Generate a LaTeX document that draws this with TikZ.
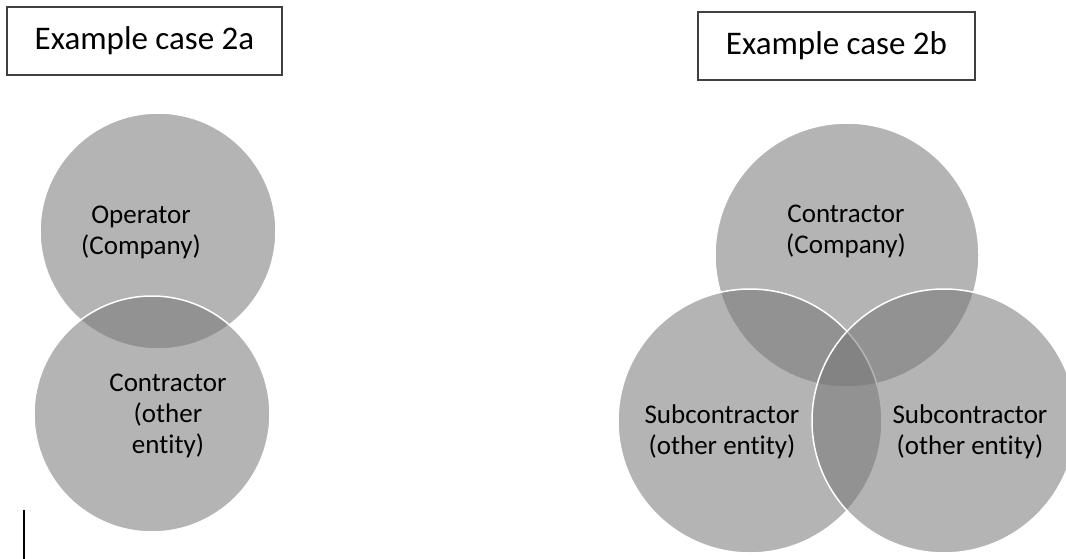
\documentclass[tikz,border=0pt]{standalone}
\usepackage{fontspec}
\setmainfont{Carlito}[Ligatures=NoCommon]
\definecolor{vennfill}{gray}{0.46}
\definecolor{boxline}{gray}{0.25}
\begin{document}
\begin{tikzpicture}[x=1pt,y=-1pt,
  casebox/.style={draw=boxline,line width=1.3pt,minimum height=68pt,inner sep=0pt,font=\fontsize{33}{40}\selectfont},
  venn/.style={circle,draw=white,line width=1.5pt,fill=vennfill,fill opacity=0.54,inner sep=0pt},
  lbl/.style={align=center,inner sep=0pt,font=\fontsize{27}{31}\selectfont}]
\clip (0,0) rectangle (1066,559);
\node[casebox,minimum width=275pt] (casea) at (144.5,41) {Example case 2a};
\node[casebox,minimum width=277pt] (caseb) at (836.5,46) {Example case 2b};
\node[venn,minimum size=236pt] (operator) at (158,231) {};
\node[venn,minimum size=236pt] (contractor) at (152,414) {};
\node[lbl] (operatortxt) at (141,232) {Operator\\(Company)};
\node[lbl] (contractortxt) at (168,416) {Contractor\\(other\\entity)};
\node[venn,minimum size=264pt] (maincontr) at (847,255) {};
\node[venn,minimum size=264pt] (subleft) at (750,421) {};
\node[venn,minimum size=264pt] (subright) at (944,421) {};
\node[lbl] (maincontrtxt) at (846,231) {Contractor\\(Company)};
\node[lbl] (sublefttxt) at (722,432) {Subcontractor\\(other entity)};
\node[lbl] (subrighttxt) at (970,432) {Subcontractor\\(other entity)};
\coordinate (cursortop) at (24,510);
\coordinate (cursorbot) at (24,559);
\draw[line width=1.5pt] (cursortop) -- (cursorbot);
\end{tikzpicture}
\end{document}
